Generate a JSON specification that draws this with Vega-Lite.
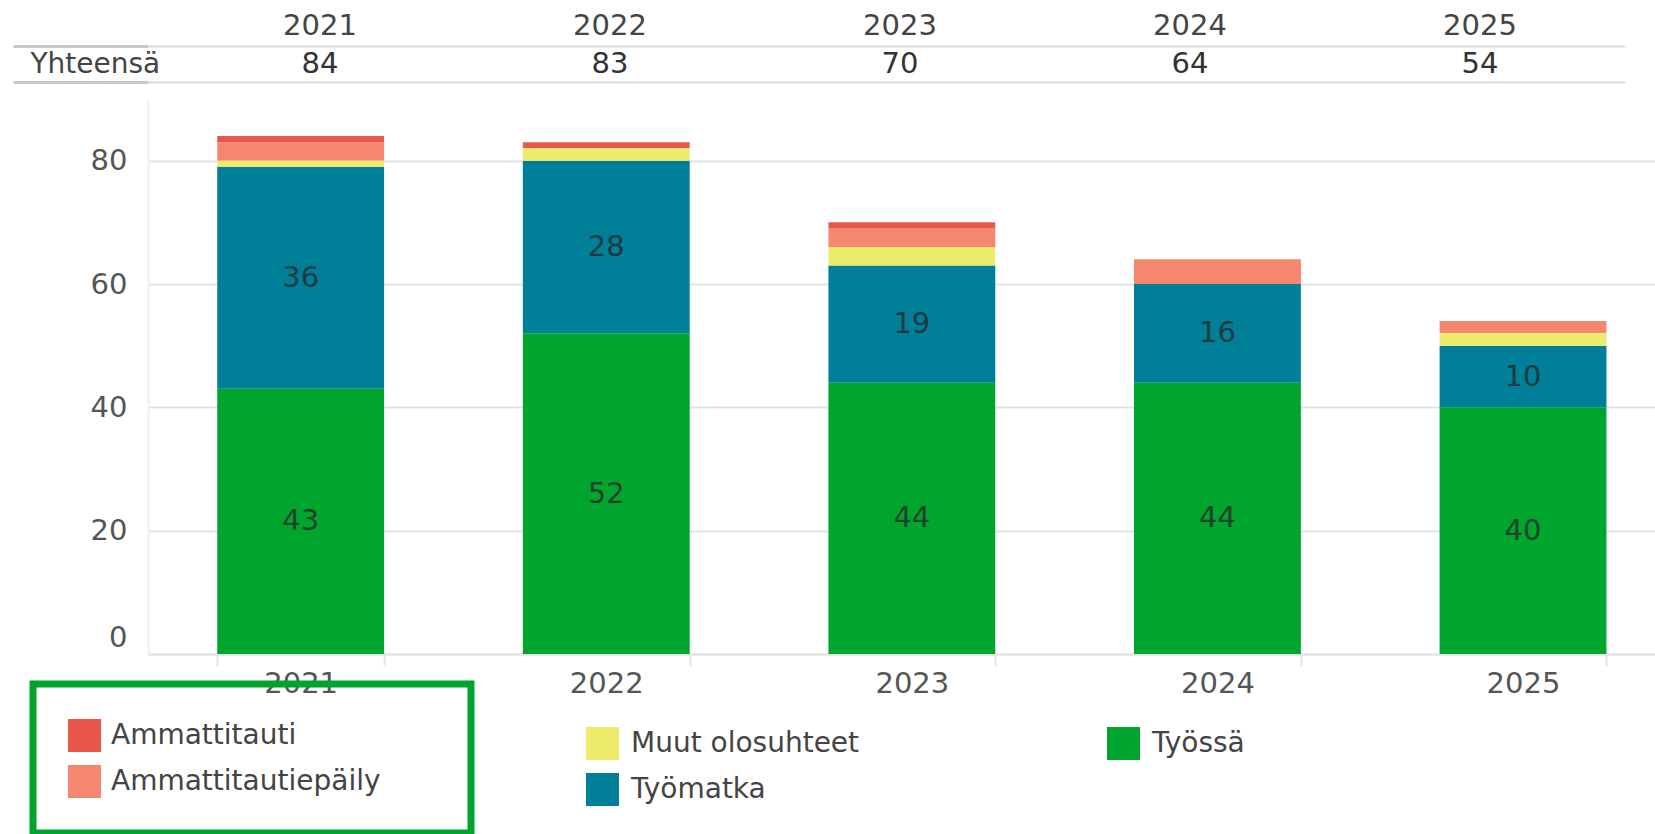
{
  "$schema": "https://vega.github.io/schema/vega-lite/v6.json",
  "background": "white",
  "padding": {"left": 11, "top": 11, "right": 0, "bottom": 0},
  "spacing": 15,
  "datasets": {
    "rows": [
      {"year": "2021", "category": "Työssä", "value": 43},
      {"year": "2021", "category": "Työmatka", "value": 36},
      {"year": "2021", "category": "Muut olosuhteet", "value": 1},
      {"year": "2021", "category": "Ammattitautiepäily", "value": 3},
      {"year": "2021", "category": "Ammattitauti", "value": 1},
      {"year": "2022", "category": "Työssä", "value": 52},
      {"year": "2022", "category": "Työmatka", "value": 28},
      {"year": "2022", "category": "Muut olosuhteet", "value": 2},
      {"year": "2022", "category": "Ammattitauti", "value": 1},
      {"year": "2023", "category": "Työssä", "value": 44},
      {"year": "2023", "category": "Työmatka", "value": 19},
      {"year": "2023", "category": "Muut olosuhteet", "value": 3},
      {"year": "2023", "category": "Ammattitautiepäily", "value": 3},
      {"year": "2023", "category": "Ammattitauti", "value": 1},
      {"year": "2024", "category": "Työssä", "value": 44},
      {"year": "2024", "category": "Työmatka", "value": 16},
      {"year": "2024", "category": "Ammattitautiepäily", "value": 4},
      {"year": "2025", "category": "Työssä", "value": 40},
      {"year": "2025", "category": "Työmatka", "value": 10},
      {"year": "2025", "category": "Muut olosuhteet", "value": 2},
      {"year": "2025", "category": "Ammattitautiepäily", "value": 2}
    ]
  },
  "config": {
    "font": "DejaVu Sans",
    "view": {"stroke": null},
    "legend": {"strokeWidth": 7}
  },
  "resolve": {
    "scale": {"color": "independent", "fill": "independent"},
    "legend": {"color": "independent", "fill": "independent"}
  },
  "vconcat": [
    {
      "width": 1477,
      "height": 36,
      "data": {"name": "rows"},
      "mark": {"type": "text", "fontSize": 29, "color": "#333", "baseline": "middle"},
      "encoding": {
        "x": {
          "field": "year", "type": "nominal",
          "scale": {"type": "band", "paddingInner": 0, "paddingOuter": 0.0466, "align": 1},
          "axis": {"orient": "top", "title": null, "domain": false, "ticks": false, "grid": false, "labelAngle": 0, "labelFontSize": 29, "labelColor": "#444", "labelPadding": 6}
        },
        "y": {
          "datum": "Yhteensä", "type": "nominal",
          "scale": {"type": "band", "domain": ["Yhteensä"], "paddingInner": 0, "paddingOuter": 0},
          "axis": {"title": null, "domain": false, "ticks": true, "tickBand": "extent", "tickSize": 135, "tickColor": "#c8c8c8", "tickWidth": 3, "grid": true, "gridColor": "#dcdcdc", "gridWidth": 2, "labelAlign": "left", "labelPadding": -17, "labelFontSize": 28, "labelColor": "#444", "labelBaseline": "middle"}
        },
        "text": {"aggregate": "sum", "field": "value", "type": "quantitative"}
      }
    },
    {
      "width": 1509,
      "height": 555,
      "data": {"name": "rows"},
      "transform": [
        {"stack": "value", "groupby": ["year"], "sort": [{"field": "category", "order": "descending"}], "as": ["y0", "y1"]}
      ],
      "encoding": {
        "x": {
          "field": "year", "type": "nominal",
          "scale": {"type": "band", "paddingInner": 0.454, "paddingOuter": 0.196, "align": 0.578},
          "axis": {"title": null, "labelAngle": 0, "labelFontSize": 29, "labelColor": "#555", "domainColor": "#e4e4e4", "domainWidth": 2, "ticks": true, "tickBand": "extent", "tickSize": 12, "tickColor": "#e4e4e4", "tickWidth": 2, "labelPadding": 3, "grid": false}
        }
      },
      "layer": [
        {
          "transform": [{"filter": {"field": "category", "oneOf": ["Ammattitauti", "Ammattitautiepäily"]}}],
          "mark": {"type": "bar"},
          "encoding": {
            "y": {
              "field": "y1", "type": "quantitative",
              "scale": {"domain": [0, 90], "nice": false},
              "axis": {"title": null, "values": [0, 20, 40, 60, 80], "labelFontSize": 29, "labelColor": "#555", "labelPadding": 21, "labelOffset": {"condition": {"test": "datum.value === 0", "value": -17}, "value": 0}, "ticks": false, "domain": true, "domainColor": "#f0f0f0", "domainWidth": 2, "gridColor": "#e3e3e3", "gridWidth": 2}
            },
            "y2": {"field": "y0"},
            "color": {
              "field": "category", "type": "nominal",
              "scale": {"domain": ["Ammattitauti", "Ammattitautiepäily"], "range": ["#e9574a", "#f5866f"]},
              "legend": {"title": " ", "titleOrient": "right", "titlePadding": 55, "titleFontSize": 27, "orient": "none", "legendX": -115, "legendY": 585, "padding": 35, "strokeColor": "#00a32e", "symbolType": "square", "symbolSize": 1089, "symbolStrokeWidth": 0, "labelFontSize": 28, "labelLimit": 500, "labelColor": "#444", "labelOffset": 10, "rowPadding": 13}
            }
          }
        },
        {
          "transform": [{"filter": {"field": "category", "oneOf": ["Muut olosuhteet", "Työmatka", "Työssä"]}}],
          "mark": {"type": "bar"},
          "encoding": {
            "y": {"field": "y1", "type": "quantitative", "title": null},
            "y2": {"field": "y0"},
            "fill": {
              "field": "category", "type": "nominal",
              "scale": {"domain": ["Muut olosuhteet", "Työmatka", "Työssä"], "range": ["#ecec6a", "#007f98", "#00a52e"]},
              "legend": {"title": null, "orient": "none", "legendX": 438, "legendY": 628, "columns": 2, "columnPadding": 247, "symbolType": "square", "symbolSize": 1089, "symbolStrokeWidth": 0, "labelFontSize": 28, "labelLimit": 500, "labelColor": "#444", "labelOffset": 12, "rowPadding": 13}
            }
          }
        },
        {
          "transform": [
            {"filter": {"field": "category", "oneOf": ["Työmatka", "Työssä"]}},
            {"calculate": "(datum.y0 + datum.y1) / 2", "as": "mid"}
          ],
          "mark": {"type": "text", "fontSize": 29, "color": "#2a2a2a", "opacity": 0.8, "baseline": "middle"},
          "encoding": {
            "y": {"field": "mid", "type": "quantitative", "title": null},
            "text": {"field": "value", "type": "quantitative"}
          }
        }
      ]
    }
  ]
}
